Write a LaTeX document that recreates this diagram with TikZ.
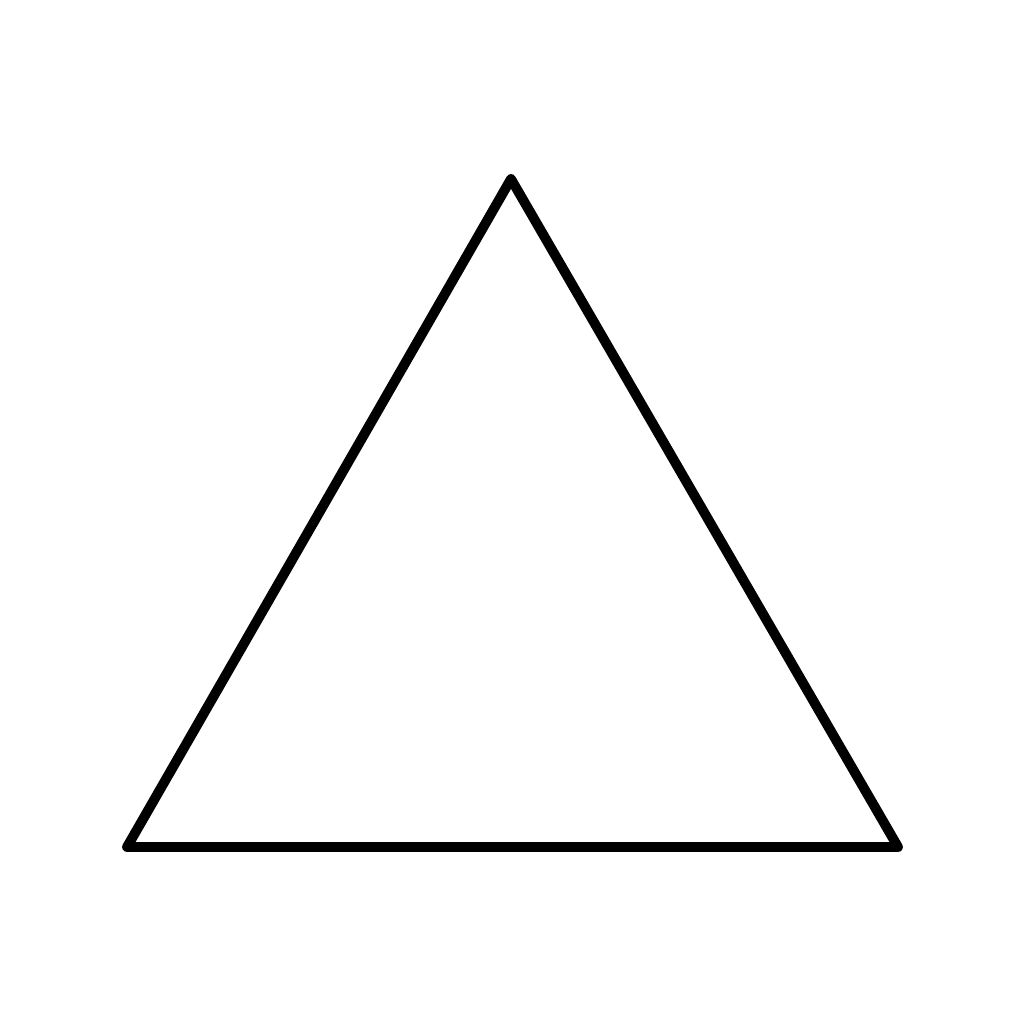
\documentclass[tikz,border=0pt]{standalone}
\usepackage{tikz}
\usetikzlibrary{calc}

\begin{document}
\begin{tikzpicture}[x=0.01cm,y=-0.01cm]
	
	\useasboundingbox (0,0) rectangle (1024,1024);
	
	\coordinate (top) at (511,179);
	\coordinate (left) at (127,847);
	\coordinate (right) at (898,847);
	
	\draw[line width=2.8pt, line join=round, line cap=round] (top) -- (right) -- (left) -- cycle;
	
\end{tikzpicture}
\end{document}
